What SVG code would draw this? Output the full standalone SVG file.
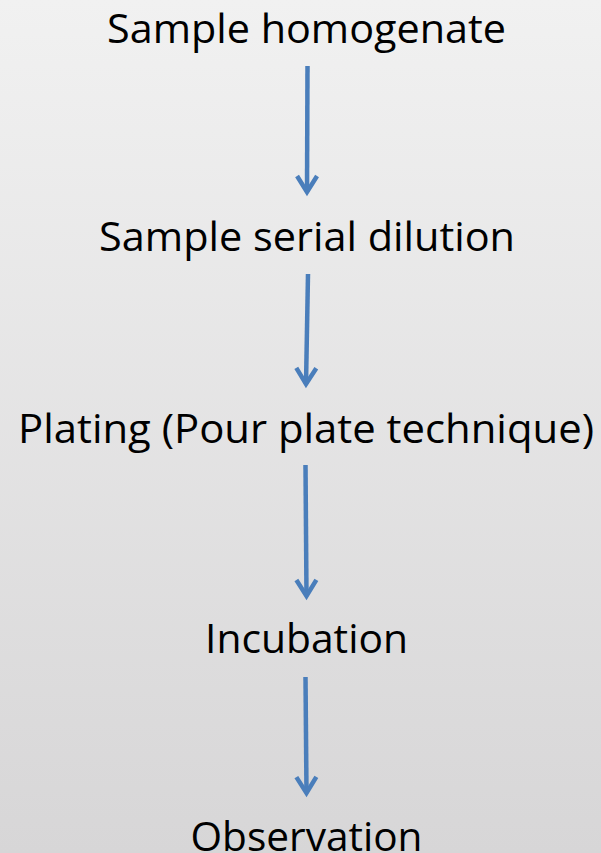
<svg xmlns="http://www.w3.org/2000/svg" width="601" height="853" viewBox="0 0 601 853">
  <style>
    .lbl { font-family: "Open Sans", "Liberation Sans", sans-serif; font-size: 41px; fill: #000; text-anchor: middle; }
    .conn { stroke: #4a7ebb; stroke-width: 4.5; fill: none; marker-end: url(#chev); }
  </style>
  <defs>
    <linearGradient id="bg" x1="0" y1="0" x2="0" y2="1">
      <stop offset="0" stop-color="#f1f1f1"/>
      <stop offset="1" stop-color="#d7d6d7"/>
    </linearGradient>
    <marker id="chev" markerUnits="userSpaceOnUse" orient="auto" refX="0" refY="0" markerWidth="40" markerHeight="40" viewBox="-20 -20 40 40" overflow="visible">
      <path d="M-16,-10 L0,0 L-16,10" fill="none" stroke="#4a7ebb" stroke-width="4.5" stroke-linejoin="miter" stroke-linecap="butt"/>
    </marker>
  </defs>
  <rect x="0" y="0" width="601" height="853" fill="url(#bg)"/>

  <g id="n1"><text class="lbl" x="306.5" y="43" textLength="399" lengthAdjust="spacingAndGlyphs">Sample homogenate</text></g>
  <g id="n2"><text class="lbl" x="307" y="251" textLength="416" lengthAdjust="spacingAndGlyphs">Sample serial dilution</text></g>
  <g id="n3"><text class="lbl" x="306" y="443" textLength="576" lengthAdjust="spacingAndGlyphs">Plating (Pour plate technique)</text></g>
  <g id="n4"><text class="lbl" x="306.5" y="653" textLength="203" lengthAdjust="spacingAndGlyphs">Incubation</text></g>
  <g id="n5"><text class="lbl" x="306.5" y="851" textLength="232" lengthAdjust="spacingAndGlyphs">Observation</text></g>

  <g id="connectors">
    <line class="conn" x1="307.5" y1="66" x2="307" y2="192"/>
    <line class="conn" x1="308" y1="274" x2="306" y2="384"/>
    <line class="conn" x1="305.5" y1="465" x2="306.5" y2="596"/>
    <line class="conn" x1="305.5" y1="677" x2="306.5" y2="793"/>
  </g>
</svg>
